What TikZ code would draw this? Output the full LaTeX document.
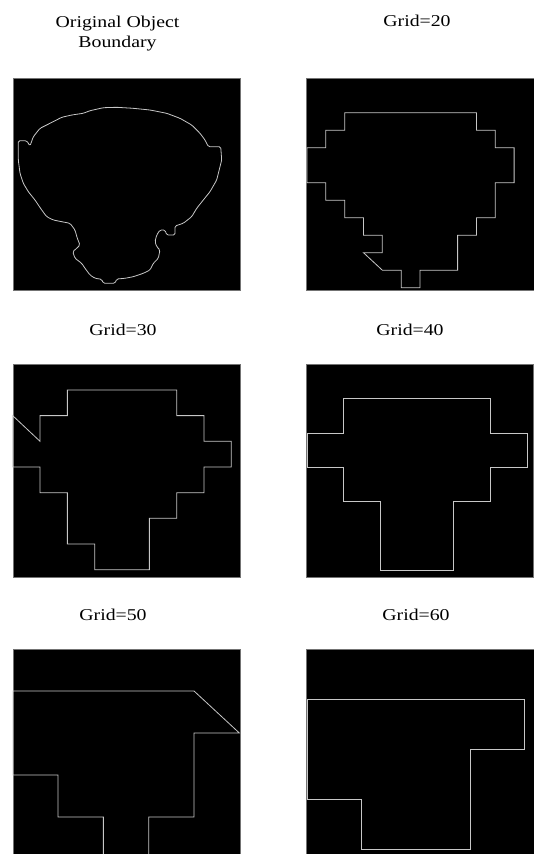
\documentclass[tikz,border=0pt]{standalone}
\usepackage{fontspec}
\newfontfamily\capfont[FakeStretch=1.2]{Liberation Serif}
\usetikzlibrary{positioning}

\begin{document}
\begin{tikzpicture}[x=1pt, y=-1pt,
    panel/.style={fill=black, draw=black!55, line width=0.4pt},
    contour/.style={draw=black!22, line width=0.8pt},
    caption/.style={font=\capfont\fontsize{16.5}{20.5}\selectfont, anchor=base,
                    inner sep=0pt, align=center},
]
\useasboundingbox[fill=white] (0,0) rectangle (534,854);

% captions
\node[caption] (orig) at (117.5,47.5) {Original Object\\Boundary};
\node[caption] (g20)  at (417,26)  {Grid=20};
\node[caption] (g30)  at (123,335) {Grid=30};
\node[caption] (g40)  at (410,335) {Grid=40};
\node[caption] (g50)  at (113,620) {Grid=50};
\node[caption] (g60)  at (416,620) {Grid=60};

% original boundary
\fill[panel] (13,78) rectangle (240,290);
\draw[contour, rounded corners=1.5pt]
  (18.3,140.7) -- (26.7,140.7) -- (30,146) -- (33.3,136.7) -- (40,128.3)
  -- (50,123.3) -- (61.7,117.3) -- (71.7,115) -- (83.3,113.3) -- (90,110.7)
  -- (103.3,107.7) -- (116.7,107.3) -- (133.3,108.3) -- (150,110)
  -- (166.7,113.3) -- (180,118.3) -- (191.7,125) -- (200,133.3) -- (205,140)
  -- (208.3,146.7) -- (220.7,146.7) -- (221.7,160) -- (220,166.7)
  -- (216.7,180) -- (210,191.7) -- (203.3,200) -- (196.7,208.3)
  -- (191.7,216.7) -- (183.3,223.3) -- (175,226) -- (175,235) -- (166.7,235)
  -- (165,230) -- (160,230) -- (156.7,235) -- (155,241.7) -- (156.7,246.7)
  -- (160,250) -- (158.3,258.3) -- (153.3,263.3) -- (150,270)
  -- (143.3,273.3) -- (133.3,276.7) -- (125,278.3) -- (116.7,279)
  -- (115,283.3) -- (103.3,283.3) -- (101.7,279.3) -- (95,278.3) -- (90,275)
  -- (85,268.3) -- (81.7,263.3) -- (75,258.3) -- (72.7,251.7) -- (76.7,248.3)
  -- (80,245) -- (77.3,238.3) -- (75,230) -- (70,223.3) -- (61.7,221.7)
  -- (53.3,220) -- (46.7,216.7) -- (41.7,210) -- (35,200) -- (28.3,191.7)
  -- (23.3,183.3) -- (20,173.3) -- (18.3,160) -- (18.3,150) -- cycle;

% grid = 20
\fill[panel] (306,78) rectangle (534,290);
\begin{scope}[shift={(307pt,-77.7pt)}, x=18.83pt, y=-17.5pt]
\draw[contour] (2,2) -- (9,2) -- (9,3) -- (10,3) -- (10,4) -- (11,4) -- (11,6)
  -- (10,6) -- (10,8) -- (9,8) -- (9,9) -- (8,9) -- (8,11) -- (6,11) -- (6,12)
  -- (5,12) -- (5,11) -- (4,11) -- (3,10) -- (4,10) -- (4,9) -- (3,9) -- (3,8)
  -- (2,8) -- (2,7) -- (1,7) -- (1,6) -- (0,6) -- (0,4) -- (1,4) -- (1,3)
  -- (2,3) -- cycle;
\end{scope}

% grid = 30
\fill[panel] (13,364) rectangle (240,577);
\begin{scope}[shift={(12.7pt,-364.3pt)}, x=27.33pt, y=-25.67pt]
\draw[contour] (0,2) -- (1,3) -- (1,2) -- (2,2) -- (2,1) -- (6,1) -- (6,2)
  -- (7,2) -- (7,3) -- (8,3) -- (8,4) -- (7,4) -- (7,5) -- (6,5) -- (6,6)
  -- (5,6) -- (5,8) -- (3,8) -- (3,7) -- (2,7) -- (2,5) -- (1,5) -- (1,4)
  -- (0,4) -- cycle;
\end{scope}

% grid = 40
\fill[panel] (306,364) rectangle (533,577);
\begin{scope}[shift={(307pt,-364.3pt)}, x=36.67pt, y=-34.33pt]
\draw[contour] (1,1) -- (5,1) -- (5,2) -- (6,2) -- (6,3) -- (5,3) -- (5,4)
  -- (4,4) -- (4,6) -- (2,6) -- (2,4) -- (1,4) -- (1,3) -- (0,3) -- (0,2)
  -- (1,2) -- cycle;
\end{scope}

% grid = 50
\fill[panel] (13,649) rectangle (240,854);
\begin{scope}
\clip (12.7,649) rectangle (240,854);
\begin{scope}[shift={(12.7pt,-649pt)}, x=45.33pt, y=-42pt]
\draw[contour] (0,1) -- (4,1) -- (5,2) -- (4,2) -- (4,4) -- (3,4) -- (3,5.5)
  -- (2,5.5) -- (2,4) -- (1,4) -- (1,3) -- (0,3) -- cycle;
\end{scope}
\end{scope}

% grid = 60
\fill[panel] (306,649) rectangle (534,854);
\begin{scope}[shift={(307pt,-649pt)}, x=54.33pt, y=-50pt]
\draw[contour] (0,1) -- (4,1) -- (4,2) -- (3,2) -- (3,4) -- (1,4) -- (1,3)
  -- (0,3) -- cycle;
\end{scope}
\end{tikzpicture}
\end{document}
